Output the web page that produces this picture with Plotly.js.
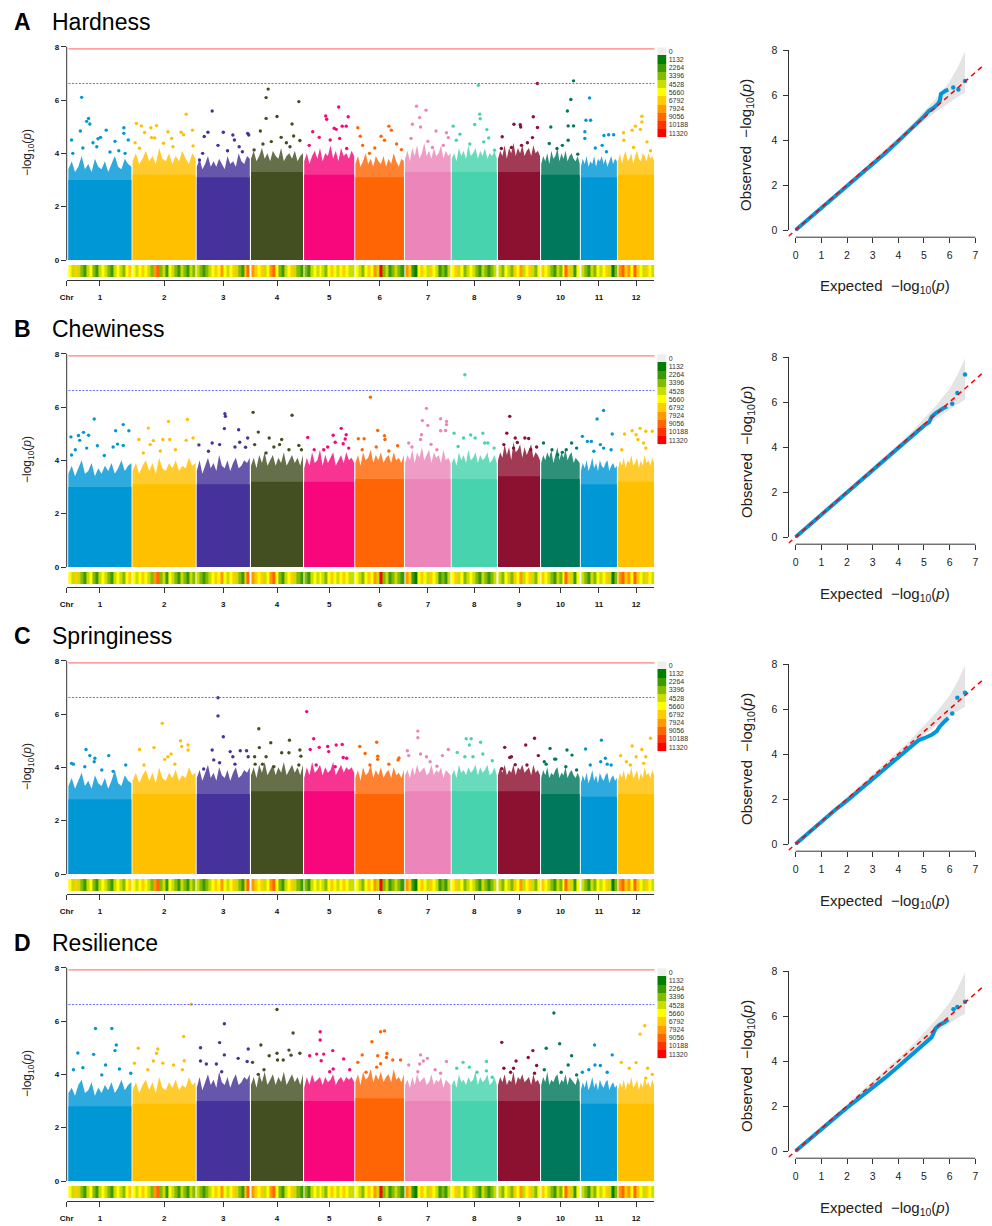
<!DOCTYPE html>
<html>
<head>
<meta charset="utf-8">
<script src="https://cdn.plot.ly/plotly-3.0.1.min.js"></script>
<style>
html, body { margin: 0; padding: 0; background: #fff; }
#chart { width: 992px; height: 1226px; }
</style>
</head>
<body>
<div id="chart"></div>
<script>
const W = 992, H = 1226;
const FONT = 'Liberation Sans, Arial, Helvetica, sans-serif';

// chromosome widths on the SNP-index axis
let chrLen = [63, 63, 53, 52, 50, 48.5, 45.5, 45, 42, 38.5, 36, 36];
let chrGap = 1.2;
let chrColors = ['#0097d7', '#ffc000', '#45329a', '#434f21', '#f7077b', '#ff6505',
                 '#ec86ba', '#47d3ae', '#8c1030', '#00785c', '#0097d7', '#ffc000'];

let panelLetters = ['A', 'B', 'C', 'D'];
let traitNames = ['Hardness', 'Chewiness', 'Springiness', 'Resilience'];
let thrRed = 7.92;
let thrBlue = 6.62;

let legendLabels = ['0', '1132', '2264', '3396', '4528', '5660', '6792', '7924', '9056', '10188', '11320'];
let legendColors = ['#eeeeee', '#007f00', '#3c9a00', '#84bb00', '#c9dd00', '#ffff00',
                    '#ffcc00', '#ff9900', '#ff6600', '#ff3300', '#ff0000'];

// SNP density (legend level) per bin, same for every trait
let density = [
  [5,4,6,4,3,2,4,5,3,2,4,5,4,3,2,4,5,4,3,5,6],
  [5,4,5,6,5,4,3,7,8,3,4,2,5,4,3,2,4,3,2,4,3],
  [4,3,2,3,4,5,6,5,7,5,4,5,6,4,3,2,6,8],
  [7,6,5,6,4,5,7,8,5,3,2,4,5,6,4,3,2],
  [3,2,4,5,4,5,4,3,5,6,5,4,5,6,5,4,4],
  [5,4,3,5,6,5,7,4,10,3,4,2,3,4,3,2],
  [7,6,2,1,5,6,5,4,6,5,4,2,3,2,4],
  [5,6,4,5,3,4,5,4,3,2,4,3,2,3,4],
  [4,3,5,4,3,6,5,7,4,5,6,4,3,5],
  [6,5,4,3,2,4,3,5,8,6,4,2,5],
  [4,3,2,4,3,5,4,5,6,4,1,3],
  [7,8,6,7,5,8,6,5,4,6,5,4]
];

// level up to which the SNP cloud is solid, per chromosome
let hardSolid   = [3.0, 3.2, 3.1, 3.3, 3.2, 3.1, 3.3, 3.3, 3.3, 3.2, 3.1, 3.2];
let chewSolid   = [3.0, 3.1, 3.1, 3.2, 3.2, 3.3, 3.3, 3.3, 3.4, 3.3, 3.1, 3.2];
let springSolid = [2.8, 3.0, 3.0, 3.1, 3.1, 3.0, 3.1, 3.1, 3.1, 3.0, 2.9, 3.0];
let resilSolid  = [2.8, 2.9, 3.0, 3.0, 3.0, 3.1, 3.0, 3.0, 3.0, 3.0, 2.9, 2.9];

// ragged upper edge of the speckled part of the cloud, per chromosome
let hardFringe = [
  [3.4,3.7,3.3,3.5,3.9,3.4,3.6,3.3,3.8,3.5,3.4,3.7,3.3,3.6,3.9,3.5,3.4,3.8,3.6,3.5],
  [3.7,4.0,3.6,3.8,4.1,3.7,3.9,3.6,4.2,3.8,3.7,4.0,3.6,3.9,3.7,4.1,3.8,3.6,4.0,3.8],
  [3.5,3.8,3.4,3.6,3.9,3.5,3.7,3.5,3.8,3.6,3.4,3.9,3.6,3.7,3.5,4.0,3.7,3.6,3.9,3.8],
  [3.8,4.1,3.7,3.9,4.2,3.8,4.0,3.7,4.1,3.9,3.8,4.2,3.7,3.9,4.0,3.8,4.1,3.7,3.9,4.0],
  [3.7,4.0,3.6,3.9,4.1,3.8,4.2,3.7,4.0,3.9,4.3,3.8,4.1,3.7,4.2,3.9,4.0,3.8,4.1,3.9],
  [3.6,3.9,3.5,3.7,4.0,3.6,3.8,3.5,3.9,3.7,3.6,3.9,3.5,3.8,3.6,4.0,3.7,3.5,3.8,3.7],
  [3.8,4.1,3.7,4.2,3.9,4.3,3.8,4.0,4.4,3.9,4.1,3.8,4.2,3.9,4.0,4.3,3.8,4.1,3.9,4.0],
  [3.8,4.0,3.7,4.2,3.9,4.1,3.8,4.3,3.9,4.0,4.2,3.8,4.1,3.9,4.2,3.8,4.0,3.9,4.1,3.8],
  [3.8,4.1,3.9,4.3,3.8,4.2,4.0,4.4,3.9,4.2,4.0,4.3,3.9,4.1,4.2,3.9,4.3,4.0,4.1,3.9],
  [3.6,3.9,3.7,4.0,3.6,4.1,3.8,3.9,4.2,3.7,4.0,3.8,4.1,3.7,3.9,4.0,3.8,3.7,3.9,3.6],
  [3.5,3.8,3.6,3.9,3.5,3.7,3.6,3.9,3.5,3.8,3.7,3.9,3.6,3.8,3.5,3.7,3.9,3.6,3.8,3.7],
  [3.7,4.0,3.6,3.9,4.1,3.7,3.8,4.0,3.6,3.9,4.1,3.8,3.7,4.0,3.9,3.7,4.0,3.8,3.9,3.7]
];
let chewFringe = [
  [3.5,3.8,3.4,3.7,4.0,3.5,3.6,3.9,3.4,3.7,3.5,3.8,3.6,3.9,3.5,3.7,4.0,3.6,3.8,3.9],
  [3.6,3.9,3.5,3.8,4.0,3.6,3.9,3.5,4.1,3.7,3.6,3.9,3.7,4.0,3.6,3.8,3.7,4.1,3.8,3.9],
  [3.6,4.0,3.5,3.8,4.1,3.7,3.9,3.6,4.2,3.8,3.7,4.0,3.6,3.9,4.1,3.7,3.8,4.0,3.9,4.1],
  [3.8,4.1,3.7,4.2,3.9,4.3,3.8,4.0,4.2,3.8,4.1,3.9,4.3,3.8,4.0,4.2,3.9,4.1,3.8,4.2],
  [3.7,4.1,3.8,4.3,3.9,4.0,4.4,3.8,4.2,3.9,4.1,4.3,3.8,4.0,4.2,3.9,4.3,4.0,4.1,3.9],
  [3.9,4.2,3.8,4.3,4.0,4.1,4.4,3.9,4.2,4.0,4.3,3.9,4.1,4.2,3.9,4.3,4.0,4.1,3.9,4.2],
  [3.9,4.2,4.0,4.4,3.9,4.3,4.1,4.5,4.0,4.2,4.4,3.9,4.3,4.1,4.2,3.9,4.4,4.0,4.1,3.9],
  [3.9,4.1,3.8,4.3,4.0,4.2,3.9,4.4,4.0,4.1,4.3,3.9,4.2,4.0,4.1,4.3,3.9,4.0,4.2,3.9],
  [4.0,4.3,4.1,4.6,4.2,4.5,4.0,4.7,4.3,4.4,4.6,4.1,4.5,4.2,4.4,4.6,4.1,4.3,4.2,4.0],
  [3.9,4.2,4.0,4.3,4.1,4.4,3.9,4.2,4.5,4.0,4.3,4.1,4.4,4.0,4.2,4.3,3.9,4.1,4.0,3.9],
  [3.6,3.9,3.7,4.0,3.6,3.8,4.1,3.7,3.9,3.6,4.0,3.8,3.7,3.9,4.0,3.6,3.8,3.9,3.7,3.8],
  [3.7,4.0,3.8,4.1,3.7,4.0,3.9,4.2,3.8,3.9,4.1,3.7,4.0,3.8,4.2,3.9,4.0,3.8,4.1,3.9]
];
let springFringe = [
  [3.3,3.6,3.2,3.5,3.8,3.3,3.5,3.2,3.7,3.4,3.3,3.6,3.2,3.5,3.9,3.4,3.3,3.7,3.5,3.4],
  [3.5,3.8,3.4,3.7,3.9,3.5,3.8,3.4,4.0,3.6,3.5,3.8,3.6,3.9,3.5,3.7,3.6,4.0,3.7,3.8],
  [3.6,3.9,3.5,3.8,4.1,3.6,3.8,3.5,4.0,3.7,3.6,3.9,3.5,3.8,4.0,3.6,3.7,3.9,3.8,4.0],
  [3.7,4.0,3.6,4.1,3.8,4.2,3.7,3.9,4.1,3.7,4.0,3.8,4.2,3.7,3.9,4.1,3.8,4.0,3.7,4.1],
  [3.6,4.0,3.7,4.2,3.8,3.9,4.1,3.7,4.0,3.8,3.9,4.2,3.7,3.9,4.1,3.8,4.0,3.9,4.0,3.8],
  [3.6,3.9,3.5,4.0,3.7,3.8,4.1,3.6,3.9,3.7,4.0,3.6,3.8,3.9,3.6,4.0,3.7,3.8,3.6,3.9],
  [3.7,3.9,3.6,4.0,3.7,4.1,3.8,3.9,4.0,3.7,3.8,4.1,3.7,3.9,3.8,4.0,3.6,3.9,3.8,3.7],
  [3.7,3.9,3.6,4.1,3.8,3.9,3.7,4.0,3.8,3.9,4.1,3.7,4.0,3.8,3.9,4.1,3.7,3.8,4.0,3.7],
  [3.7,4.0,3.8,4.1,3.7,3.9,3.8,4.1,3.7,4.0,3.9,4.1,3.8,3.9,4.0,3.7,4.1,3.8,3.9,3.7],
  [3.6,3.9,3.7,4.0,3.6,3.8,3.7,3.9,4.0,3.6,3.8,3.7,4.0,3.6,3.8,3.9,3.7,3.6,3.8,3.6],
  [3.4,3.7,3.5,3.8,3.4,3.6,3.9,3.5,3.7,3.4,3.8,3.6,3.5,3.7,3.8,3.4,3.6,3.7,3.5,3.6],
  [3.5,3.8,3.6,3.9,3.5,3.8,3.7,4.0,3.6,3.7,3.9,3.5,3.8,3.6,4.0,3.7,3.8,3.6,3.9,3.7]
];
let resilFringe = [
  [3.3,3.5,3.2,3.6,3.8,3.3,3.4,3.7,3.2,3.5,3.3,3.6,3.4,3.7,3.3,3.5,3.8,3.4,3.6,3.7],
  [3.4,3.7,3.3,3.6,3.8,3.4,3.7,3.3,3.9,3.5,3.4,3.7,3.5,3.8,3.4,3.6,3.5,3.9,3.6,3.7],
  [3.5,3.9,3.4,3.7,4.0,3.6,3.8,3.5,4.1,3.7,3.6,3.9,3.5,3.8,4.0,3.6,3.7,3.9,3.8,4.0],
  [3.6,3.9,3.5,4.0,3.7,4.1,3.6,3.8,4.0,3.6,3.9,3.7,4.1,3.6,3.8,4.0,3.7,3.9,3.6,4.0],
  [3.5,3.9,3.6,4.0,3.7,3.8,3.9,3.6,3.9,3.7,3.8,4.0,3.6,3.8,3.9,3.7,3.9,3.8,3.9,3.7],
  [3.7,4.0,3.6,4.1,3.8,3.9,4.2,3.7,4.0,3.8,4.1,3.7,3.9,4.0,3.7,4.2,3.8,3.9,3.7,4.0],
  [3.6,3.8,3.5,3.9,3.6,4.0,3.7,3.8,3.9,3.6,3.7,4.0,3.6,3.8,3.7,3.9,3.5,3.8,3.7,3.6],
  [3.6,3.8,3.5,4.0,3.7,3.8,3.6,3.9,3.7,3.8,4.1,3.6,3.9,3.7,3.8,4.0,3.6,3.7,3.9,3.6],
  [3.6,3.9,3.7,4.0,3.6,3.8,3.7,4.1,3.6,3.9,3.8,4.0,3.7,3.8,3.9,3.6,4.0,3.7,3.8,3.6],
  [3.6,3.9,3.7,4.1,3.6,3.8,3.7,3.9,4.0,3.6,3.8,3.7,4.0,3.6,3.9,3.8,3.7,3.6,3.9,3.7],
  [3.4,3.7,3.5,3.8,3.4,3.6,3.9,3.5,3.7,3.4,3.8,3.6,3.5,3.7,3.8,3.4,3.6,3.7,3.5,3.6],
  [3.4,3.7,3.5,3.8,3.4,3.7,3.6,3.9,3.5,3.6,3.8,3.4,3.7,3.5,3.9,3.6,3.7,3.5,3.8,3.6]
];

// single SNPs above the cloud: [chromosome + fraction along it, -log10(p)]
let hardSnps = [
  [1.21,6.1],[1.32,5.31],[1.29,5.2],[1.34,5.1],[1.05,4.5],[1.19,4.84],[1.6,4.87],[1.88,4.96],[1.88,4.75],[1.95,4.5],
  [1.47,4.55],[1.51,4.6],[1.39,4.4],[1.07,4.0],[1.23,4.2],[1.45,4.25],[1.74,4.45],[1.8,4.1],[1.66,4.05],[1.9,4.0],
  [2.06,5.12],[2.14,5.03],[2.29,4.96],[2.38,5.04],[2.85,5.47],[2.95,4.87],[2.19,4.78],[2.56,4.81],[2.77,4.79],[2.81,4.7],
  [2.3,4.59],[2.35,4.58],[2.62,4.56],[2.04,4.4],[2.49,4.38],[2.96,4.28],[2.11,4.19],[2.64,4.25],
  [3.29,5.59],[3.21,4.79],[3.5,4.79],[3.68,4.69],[3.96,4.75],[3.98,4.69],[3.14,4.63],[3.05,3.75],[3.11,4.0],[3.71,4.5],
  [3.8,4.25],[3.86,4.06],[3.4,4.3],[3.58,4.1],
  [4.33,6.41],[4.29,6.09],[4.92,5.94],[4.29,5.31],[4.5,5.38],[4.79,5.1],[4.18,4.84],[4.58,4.6],[4.82,4.65],[4.94,4.48],
  [4.06,4.13],[4.23,4.35],[4.39,4.44],[4.68,4.4],[4.75,4.25],
  [5.17,4.81],[5.43,5.4],[5.45,5.28],[5.6,4.94],[5.69,5.74],[5.88,5.37],[5.76,5.02],[5.84,5.02],[5.64,4.9],[5.71,4.56],
  [5.85,4.18],[5.3,4.6],[5.52,4.5],[5.1,4.3],
  [6.05,4.96],[6.69,5.02],[6.74,4.87],[6.53,4.64],[6.6,4.49],[6.1,4.64],[6.95,4.14],[6.29,4.0],[6.15,4.3],[6.4,4.2],[6.85,4.35],
  [7.25,5.77],[7.46,5.62],[7.32,5.34],[7.16,5.09],[7.34,4.99],[7.68,4.84],[7.91,4.77],[7.95,4.59],[7.13,4.56],[7.6,4.22],
  [7.84,4.3],[7.5,4.45],
  [8.59,6.55],[8.62,5.47],[8.63,5.3],[8.51,5.08],[8.78,4.89],[8.03,5.02],[8.18,4.72],[8.1,4.49],[8.71,4.43],[8.82,4.58],
  [8.95,4.12],[8.4,4.35],
  [9.94,6.62],[9.84,5.37],[9.38,5.09],[9.53,5.07],[9.54,4.99],[9.94,4.97],[9.1,4.62],[9.82,4.59],[9.08,4.18],[9.32,4.22],
  [9.56,4.3],[9.7,4.4],
  [10.84,6.72],[10.77,6.02],[10.68,5.59],[10.7,5.03],[10.84,5.03],[10.25,4.99],[10.21,4.37],[10.41,4.18],[10.7,4.49],
  [10.95,3.97],[10.55,4.3],
  [11.24,6.08],[11.14,5.24],[11.27,5.24],[11.11,4.81],[11.11,4.56],[11.64,4.67],[11.77,4.7],[11.91,4.7],[11.59,4.3],
  [11.71,4.06],[11.4,4.2],
  [12.66,5.39],[12.66,5.18],[12.48,5.02],[12.39,4.87],[12.15,4.77],[12.62,4.9],[12.16,4.49],[12.8,4.43],[12.43,4.22],[12.9,4.1]
];
let chewSnps = [
  [1.41,5.55],[1.87,5.34],[1.75,5.11],[1.96,5.11],[1.24,5.05],[1.16,4.93],[1.32,4.94],[1.04,4.88],[1.18,4.75],[1.46,4.55],
  [1.78,4.61],[1.71,4.5],[1.87,4.56],[1.11,4.4],[1.29,4.46],[1.57,4.18],[1.05,4.2],
  [2.25,5.21],[2.57,5.46],[2.87,5.53],[2.1,4.78],[2.33,4.74],[2.48,4.78],[2.59,4.78],[2.85,4.75],[2.96,4.84],[2.28,4.59],
  [2.68,4.4],[2.17,4.28],[2.44,4.35],
  [3.53,5.75],[3.54,5.65],[3.52,5.19],[3.79,5.15],[3.96,4.84],[3.81,4.68],[3.29,4.65],[3.43,4.59],[3.04,4.58],[3.72,4.5],
  [3.92,4.49],[3.22,4.34],
  [4.04,5.8],[4.79,5.69],[4.14,5.06],[4.35,4.84],[4.59,4.78],[4.07,4.59],[4.55,4.59],[4.92,4.56],[4.97,4.4],[4.73,4.4],
  [4.29,4.28],[4.44,4.5],
  [5.74,5.2],[5.58,4.94],[5.84,4.96],[5.07,4.86],[5.82,4.8],[5.62,4.68],[5.2,4.4],[5.47,4.5],[5.39,4.4],[5.89,4.46],[5.78,4.62],
  [6.31,6.37],[6.46,5.12],[6.06,4.81],[6.18,4.81],[6.6,4.92],[6.61,4.78],[6.43,4.5],[6.87,4.55],[6.14,4.4],[6.69,4.35],
  [7.47,5.95],[7.38,5.49],[7.5,5.31],[7.78,5.56],[7.91,5.46],[7.91,5.34],[7.78,5.11],[7.89,5.12],[7.36,4.96],[7.34,4.78],
  [7.08,4.65],[7.15,4.5],[7.57,4.6],[7.7,4.4],
  [8.29,7.21],[8.05,5.02],[8.42,4.95],[8.69,5.02],[8.26,4.84],[8.52,4.84],[8.14,4.52],[8.8,4.65],[8.73,4.65],[8.94,4.46],
  [9.28,5.65],[9.21,5.02],[9.41,4.84],[9.64,4.84],[9.73,4.82],[9.46,4.67],[9.92,4.5],[9.14,4.59],[9.37,4.46],[9.78,4.4],
  [10.06,4.65],[10.79,4.65],[10.65,4.4],[10.28,4.4],[10.43,4.21],[10.92,4.46],[10.55,4.3],
  [11.63,5.87],[11.45,5.55],[11.87,4.99],[11.04,4.9],[11.18,4.71],[11.29,4.71],[11.54,4.59],[11.84,4.4],[11.63,4.46],[11.36,4.34],
  [12.61,5.2],[12.39,5.11],[12.77,5.09],[12.95,5.09],[12.18,4.99],[12.5,4.96],[12.55,4.78],[12.77,4.46],[12.71,4.65],[12.1,4.4]
];
let springSnps = [
  [1.28,4.67],[1.34,4.44],[1.42,4.34],[1.41,4.21],[1.64,4.44],[1.08,4.12],[1.05,4.15],[1.26,4.02],[1.91,4.09],[1.53,3.9],[1.71,3.85],
  [2.47,5.65],[2.76,5.0],[2.88,4.84],[2.88,4.65],[2.78,4.78],[2.11,4.67],[2.34,4.74],[2.61,4.5],[2.56,4.4],[2.67,4.12],
  [2.51,4.3],[2.18,4.09],
  [3.4,6.61],[3.4,5.93],[3.5,5.15],[3.29,4.65],[3.63,4.59],[3.82,4.62],[3.94,4.62],[3.32,4.28],[3.68,4.4],[3.72,4.12],
  [3.43,4.17],[3.13,3.94],[3.97,4.4],
  [4.15,5.45],[4.38,4.92],[4.74,5.02],[4.16,4.74],[4.59,4.55],[4.73,4.55],[4.94,4.65],[4.96,4.42],[4.07,4.4],[4.29,4.4],
  [4.08,4.12],[4.22,4.12],[4.44,4.02],[4.92,4.09],
  [5.05,6.09],[5.19,5.07],[5.76,4.86],[5.64,4.84],[5.47,4.78],[5.49,4.59],[5.3,4.75],[5.12,4.67],[5.78,4.37],[5.85,4.34],
  [5.24,4.09],[5.62,4.02],
  [6.09,4.78],[6.44,4.94],[6.2,4.52],[6.46,4.42],[6.46,4.3],[6.88,4.28],[6.9,4.35],[6.69,4.12],[6.3,4.09],
  [7.28,5.36],[7.28,5.11],[7.05,4.62],[7.08,4.44],[7.34,4.5],[7.47,4.4],[7.82,4.44],[7.95,4.67],[7.55,4.21],[7.7,4.04],
  [8.32,5.07],[8.43,5.07],[8.39,4.84],[8.64,4.94],[8.12,4.56],[8.47,4.4],[8.69,4.5],[8.9,4.25],[8.29,4.4],
  [9.87,5.09],[9.66,4.84],[9.16,4.75],[9.32,4.4],[9.28,4.37],[9.96,4.44],[9.69,4.09],[9.09,3.95],[9.41,4.1],
  [10.23,4.71],[10.67,4.65],[10.8,4.46],[10.35,4.31],[10.38,4.31],[10.08,4.21],[10.13,4.12],[10.64,4.02],[10.92,3.9],
  [11.57,5.02],[11.13,4.69],[11.68,4.34],[11.73,4.12],[11.55,4.21],[11.26,4.09],[11.84,4.09],
  [12.9,5.09],[12.39,4.8],[12.66,4.67],[12.07,4.44],[12.5,4.4],[12.77,4.4],[12.23,4.21],[12.34,4.09],[12.71,4.15]
];
let resilSnps = [
  [1.43,5.72],[1.69,5.72],[1.76,5.1],[1.74,4.89],[1.15,4.8],[1.4,4.75],[1.59,4.35],[1.08,4.17],[1.23,4.25],[1.81,4.2],
  [1.99,4.04],[1.53,3.98],
  [2.93,6.63],[2.81,5.42],[2.09,4.98],[2.4,4.95],[2.38,4.79],[2.82,4.51],[2.33,4.5],[2.48,4.42],[2.65,4.35],[2.03,4.42],
  [2.24,4.17],[2.79,4.17],
  [3.52,5.9],[3.43,5.19],[3.07,5.0],[3.52,4.73],[3.97,4.95],[3.78,4.6],[3.07,4.5],[3.18,4.39],[3.95,4.48],[3.37,4.39],[3.47,4.1],
  [4.5,6.43],[4.81,5.55],[4.19,5.1],[4.5,4.79],[4.35,4.7],[4.73,4.91],[4.94,4.79],[4.77,4.72],[4.51,4.54],[4.03,4.45],
  [4.62,4.54],[4.25,4.17],[4.14,4.0],
  [5.32,5.6],[5.32,5.29],[5.11,4.7],[5.25,4.76],[5.39,4.76],[5.57,4.89],[5.34,4.51],[5.79,4.58],[5.58,4.2],[5.91,4.17],[5.51,4.1],
  [6.52,5.6],[6.6,5.63],[6.34,5.22],[6.14,4.73],[6.46,4.7],[6.65,4.78],[6.64,4.63],[6.77,4.54],[6.05,4.45],[6.52,4.4],
  [6.93,4.54],[6.22,4.08],[6.44,4.27],
  [7.34,4.73],[7.4,4.5],[7.32,4.39],[7.91,4.48],[7.49,4.6],[7.08,4.35],[7.66,4.17],[7.28,4.1],[7.78,4.04],
  [8.25,4.45],[8.77,4.48],[8.39,4.27],[8.11,4.23],[8.56,4.08],[8.77,4.13],[8.9,3.89],
  [9.09,5.2],[9.83,4.89],[9.72,4.63],[9.43,4.5],[9.92,4.33],[9.37,4.23],[9.14,4.23],[9.3,4.08],[9.87,4.04],
  [10.33,6.3],[10.48,5.15],[10.13,4.98],[10.79,4.7],[10.7,4.35],[10.08,4.17],[10.52,4.08],[10.92,3.98],
  [11.38,5.1],[11.87,4.73],[11.39,4.35],[11.54,4.33],[11.22,4.17],[11.04,4.08],[11.73,4.08],
  [12.74,5.82],[12.61,5.51],[12.5,4.44],[12.09,4.45],[12.31,4.23],[12.82,4.23],[12.77,3.86],[12.95,4.0]
];

// QQ plots: expected vs observed -log10(p)
let qqHardX = [0,1,2,3,3.5,4,4.5,4.7,4.85,5.0,5.2,5.4,5.55,5.62,5.66,5.75,5.85,5.95];
let qqHardY = [0,0.97,1.94,2.92,3.42,3.95,4.47,4.68,4.88,5.05,5.3,5.45,5.62,5.75,6.05,6.15,6.2,6.23];
let qqHardTailX = [6.14, 6.34, 6.6];
let qqHardTailY = [6.33, 6.25, 6.62];
let qqChewX = [0,1,2,3,4,4.5,4.8,5.0,5.2,5.3,5.45,5.6,5.75,5.9];
let qqChewY = [0,1,2,3,4,4.5,4.78,4.95,5.1,5.35,5.5,5.62,5.72,5.8];
let qqChewTailX = [6.1, 6.3, 6.6];
let qqChewTailY = [5.92, 6.4, 7.22];
let qqSpringX = [0,1,1.5,2,3,3.5,4,4.5,4.8,5.0,5.3,5.5,5.6,5.8,5.95];
let qqSpringY = [0,1,1.48,1.93,2.9,3.38,3.85,4.35,4.62,4.7,4.85,5.02,5.2,5.45,5.6];
let qqSpringTailX = [6.1, 6.3, 6.6];
let qqSpringTailY = [5.8, 6.5, 6.72];
let qqResilX = [0,0.5,1,1.5,2,2.5,3,3.5,4,4.5,5,5.3,5.45,5.6,5.8,5.95];
let qqResilY = [0,0.5,0.98,1.45,1.92,2.36,2.8,3.27,3.76,4.25,4.75,5.05,5.45,5.6,5.72,5.85];
let qqResilTailX = [6.15, 6.3, 6.6];
let qqResilTailY = [6.3, 6.4, 6.63];

// 95% band around the expected line
let bandX = [0,1,2,3,4,4.5,5,5.5,6,6.3,6.6];
let bandHi = [0.06,1.07,2.08,3.1,4.12,4.66,5.25,5.88,6.6,7.2,7.95];
let bandLo = [0,0.94,1.93,2.92,3.9,4.38,4.84,5.28,5.68,5.9,6.1];

let solids = [hardSolid, chewSolid, springSolid, resilSolid];
let fringes = [hardFringe, chewFringe, springFringe, resilFringe];
let snps = [hardSnps, chewSnps, springSnps, resilSnps];
let qqs = [
  [qqHardX, qqHardY, qqHardTailX, qqHardTailY],
  [qqChewX, qqChewY, qqChewTailX, qqChewTailY],
  [qqSpringX, qqSpringY, qqSpringTailX, qqSpringTailY],
  [qqResilX, qqResilY, qqResilTailX, qqResilTailY]
];

function px(v) { return v / W; }
function py(v) { return 1 - v / H; }
function ax(n) { return n === 1 ? '' : String(n); }

function fade(hex, a) {
  let r = parseInt(hex.substr(1, 2), 16), g = parseInt(hex.substr(3, 2), 16), b = parseInt(hex.substr(5, 2), 16);
  return 'rgba(' + r + ',' + g + ',' + b + ',' + a + ')';
}

let chrStart = [];
let pos = 0;
for(let c = 0; c < chrLen.length; c++) {
  chrStart.push(pos);
  pos += chrLen[c] + chrGap;
}
let genomeEnd = pos - chrGap;

function snpX(p) {
  let c = Math.floor(p);
  let f = p - c;
  return chrStart[c - 1] + f * chrLen[c - 1];
}

// discrete colour scale for density levels 0..10
let densScale = [];
for(let i = 0; i < legendColors.length; i++) {
  densScale.push([i / legendColors.length, legendColors[i]]);
  densScale.push([(i + 1) / legendColors.length, legendColors[i]]);
}

let traces = [];
let layout = {
  width: W, height: H,
  margin: {l: 0, r: 0, t: 0, b: 0},
  paper_bgcolor: '#fff',
  plot_bgcolor: 'rgba(0,0,0,0)',
  showlegend: false,
  font: {family: FONT, color: '#222'},
  shapes: [],
  annotations: []
};

let chrTickVals = [-1.7];
let chrTickText = ['<b>Chr</b>'];
for(let c = 0; c < chrLen.length; c++) {
  chrTickVals.push(chrStart[c] + chrLen[c] / 2);
  chrTickText.push('<b>' + (c + 1) + '</b>');
}

for(let k = 0; k < 4; k++) {
  let o = 307 * k;
  let m = 4 * k + 1, s = 4 * k + 2, l = 4 * k + 3, q = 4 * k + 4;
  let xm = 'x' + ax(m), ym = 'y' + ax(m);
  let xs = 'x' + ax(s), ys = 'y' + ax(s);
  let xl = 'x' + ax(l), yl = 'y' + ax(l);
  let xq = 'x' + ax(q), yq = 'y' + ax(q);

  // --- Manhattan plot ---
  for(let c = 0; c < chrLen.length; c++) {
    let vals = fringes[k][c];
    let x0 = chrStart[c], x1 = chrStart[c] + chrLen[c];
    let bx = [x0];
    let by = [0];
    for(let i = 0; i < vals.length; i++) {
      bx.push(x0 + chrLen[c] * i / (vals.length - 1));
      by.push(vals[i]);
    }
    bx.push(x1);
    by.push(0);
    traces.push({
      x: bx, y: by, xaxis: xm, yaxis: ym,
      type: 'scatter', mode: 'lines', fill: 'toself',
      fillcolor: fade(chrColors[c], 0.82), line: {width: 0}, hoverinfo: 'skip'
    });
    let lv = solids[k][c];
    traces.push({
      x: [x0, x0, x1, x1], y: [0, lv, lv, 0], xaxis: xm, yaxis: ym,
      type: 'scatter', mode: 'lines', fill: 'toself',
      fillcolor: chrColors[c], line: {width: 0}, hoverinfo: 'skip'
    });
  }
  traces.push({
    x: snps[k].map(p => snpX(p[0])),
    y: snps[k].map(p => p[1]),
    xaxis: xm, yaxis: ym,
    type: 'scatter', mode: 'markers',
    marker: {size: 3.4, color: snps[k].map(p => chrColors[Math.floor(p[0]) - 1])}
  });

  layout['xaxis' + ax(m)] = {
    domain: [px(66.7), px(654.4)], range: [-1.7, genomeEnd + 0.3],
    anchor: 'free', position: py(280 + o),
    showline: true, linecolor: '#333', linewidth: 1,
    ticks: 'outside', ticklen: 5, tickcolor: '#333', tickwidth: 1,
    tickvals: chrTickVals, ticktext: chrTickText,
    tickfont: {size: 8, color: '#111'}, ticklabelstandoff: 4,
    showgrid: false, zeroline: false
  };
  layout['yaxis' + ax(m)] = {
    domain: [py(260 + o), py(42.7 + o)], range: [0, 8.15], anchor: xm,
    tickvals: [0, 2, 4, 6, 8], ticktext: ['<b>0</b>', '<b>2</b>', '<b>4</b>', '<b>6</b>', '<b>8</b>'],
    ticks: 'outside', ticklen: 5, tickcolor: '#333', tickwidth: 1,
    tickfont: {size: 8, color: '#111'},
    showline: false, showgrid: false, zeroline: false
  };
  layout.shapes.push({type: 'line', xref: 'paper', yref: ym, x0: px(66.7), x1: px(66.7), y0: 0, y1: 8,
                      line: {color: '#333', width: 1}});
  layout.shapes.push({type: 'line', xref: 'paper', yref: ym, x0: px(68.4), x1: px(654.4), y0: thrRed, y1: thrRed,
                      line: {color: '#ff7f7f', width: 1.2}});
  layout.shapes.push({type: 'line', xref: 'paper', yref: ym, x0: px(68.4), x1: px(654.4), y0: thrBlue, y1: thrBlue,
                      line: {color: '#6b6bff', width: 1, dash: '2px,1.5px'}});

  // --- SNP density strip ---
  let edges = [], zrow = [];
  for(let c = 0; c < chrLen.length; c++) {
    let d = density[c];
    for(let i = 0; i < d.length; i++) {
      edges.push(chrStart[c] + chrLen[c] * i / d.length);
      zrow.push(d[i]);
    }
    if(c < chrLen.length - 1) {
      edges.push(chrStart[c] + chrLen[c]);
      zrow.push(null);
    }
  }
  edges.push(genomeEnd);
  traces.push({
    type: 'heatmap', x: edges, y: [0], z: [zrow], xaxis: xs, yaxis: ys,
    colorscale: densScale, zmin: -0.5, zmax: 10.5, showscale: false, hoverinfo: 'skip'
  });
  layout['xaxis' + ax(s)] = {domain: [px(66.7), px(654.4)], range: [-1.7, genomeEnd + 0.3], anchor: ys, visible: false};
  layout['yaxis' + ax(s)] = {domain: [py(277 + o), py(265 + o)], range: [-0.5, 0.5], anchor: xs, visible: false};

  // --- density legend ---
  traces.push({
    type: 'heatmap', x: [0], y: legendLabels.map((t, i) => i), z: legendLabels.map((t, i) => [i]),
    xaxis: xl, yaxis: yl, colorscale: densScale, zmin: -0.5, zmax: 10.5, showscale: false, hoverinfo: 'skip'
  });
  layout['xaxis' + ax(l)] = {domain: [px(657.3), px(666.7)], range: [-0.5, 0.5], anchor: yl, visible: false};
  layout['yaxis' + ax(l)] = {
    domain: [py(137.3 + o), py(47.3 + o)], range: [10.5, -0.5], anchor: xl, side: 'right',
    tickvals: legendLabels.map((t, i) => i), ticktext: legendLabels, ticks: '',
    tickfont: {size: 7, color: '#333'}, ticklabelstandoff: 1,
    showline: false, showgrid: false, zeroline: false
  };

  // --- QQ plot ---
  traces.push({
    x: bandX.concat(bandX.slice().reverse()), y: bandHi.concat(bandLo.slice().reverse()),
    xaxis: xq, yaxis: yq, type: 'scatter', mode: 'lines', fill: 'toself',
    fillcolor: '#e4e4e4', line: {width: 0}, hoverinfo: 'skip'
  });
  traces.push({
    x: qqs[k][0], y: qqs[k][1], xaxis: xq, yaxis: yq, type: 'scatter', mode: 'lines',
    line: {color: '#0096d9', width: 4}
  });
  traces.push({
    x: qqs[k][2], y: qqs[k][3], xaxis: xq, yaxis: yq, type: 'scatter', mode: 'markers',
    marker: {color: '#0096d9', size: 4.5}
  });
  traces.push({
    x: [-0.28, 7.28], y: [-0.28, 7.28], xaxis: xq, yaxis: yq, type: 'scatter', mode: 'lines',
    line: {color: '#ff0000', width: 1.5, dash: '5px,4px'}, hoverinfo: 'skip'
  });
  layout['xaxis' + ax(q)] = {
    domain: [px(788.5), px(982.5)], range: [-0.28, 7.28], anchor: yq,
    tickvals: [0, 1, 2, 3, 4, 5, 6, 7], ticks: 'outside', ticklen: 5, tickcolor: '#333',
    tickfont: {size: 10.5, color: '#222'}, ticklabelstandoff: 3,
    showline: false, showgrid: false, zeroline: false
  };
  layout['yaxis' + ax(q)] = {
    domain: [py(237.2 + o), py(42.8 + o)], range: [-0.32, 8.32], anchor: xq,
    tickvals: [0, 2, 4, 6, 8], ticks: 'outside', ticklen: 5, tickcolor: '#333',
    tickfont: {size: 10.5, color: '#222'}, ticklabelstandoff: 3,
    showline: false, showgrid: false, zeroline: false
  };
  layout.shapes.push({type: 'line', xref: xq, yref: 'paper', x0: 0, x1: 7, y0: py(237.2 + o), y1: py(237.2 + o),
                      line: {color: '#333', width: 1}});
  layout.shapes.push({type: 'line', xref: 'paper', yref: yq, x0: px(788.5), x1: px(788.5), y0: 0, y1: 8,
                      line: {color: '#333', width: 1}});

  // --- texts ---
  layout.annotations.push({
    xref: 'paper', yref: 'paper', x: px(12), y: py(22 + o), xanchor: 'left', yanchor: 'middle',
    text: '<b>' + panelLetters[k] + '</b>', showarrow: false, font: {size: 23, color: '#000'}
  });
  layout.annotations.push({
    xref: 'paper', yref: 'paper', x: px(50), y: py(22 + o), xanchor: 'left', yanchor: 'middle',
    text: traitNames[k], showarrow: false, font: {size: 23, color: '#000'}
  });
  layout.annotations.push({
    xref: 'paper', yref: 'paper', x: px(28), y: py(153 + o), xanchor: 'center', yanchor: 'middle',
    text: '\u2212log<sub>10</sub>(<i>p</i>)', textangle: -90, showarrow: false, font: {size: 12, color: '#222'}
  });
  layout.annotations.push({
    xref: 'paper', yref: 'paper', x: px(747), y: py(145 + o), xanchor: 'center', yanchor: 'middle',
    text: 'Observed\u00a0 \u2212log<sub>10</sub>(<i>p</i>)', textangle: -90, showarrow: false,
    font: {size: 15, color: '#222'}
  });
  layout.annotations.push({
    xref: 'paper', yref: 'paper', x: px(885), y: py(287 + o), xanchor: 'center', yanchor: 'middle',
    text: 'Expected\u00a0 \u2212log<sub>10</sub>(<i>p</i>)', showarrow: false,
    font: {size: 15, color: '#222'}
  });
}

Plotly.newPlot('chart', traces, layout, {staticPlot: true, displayModeBar: false});
</script>
</body>
</html>
